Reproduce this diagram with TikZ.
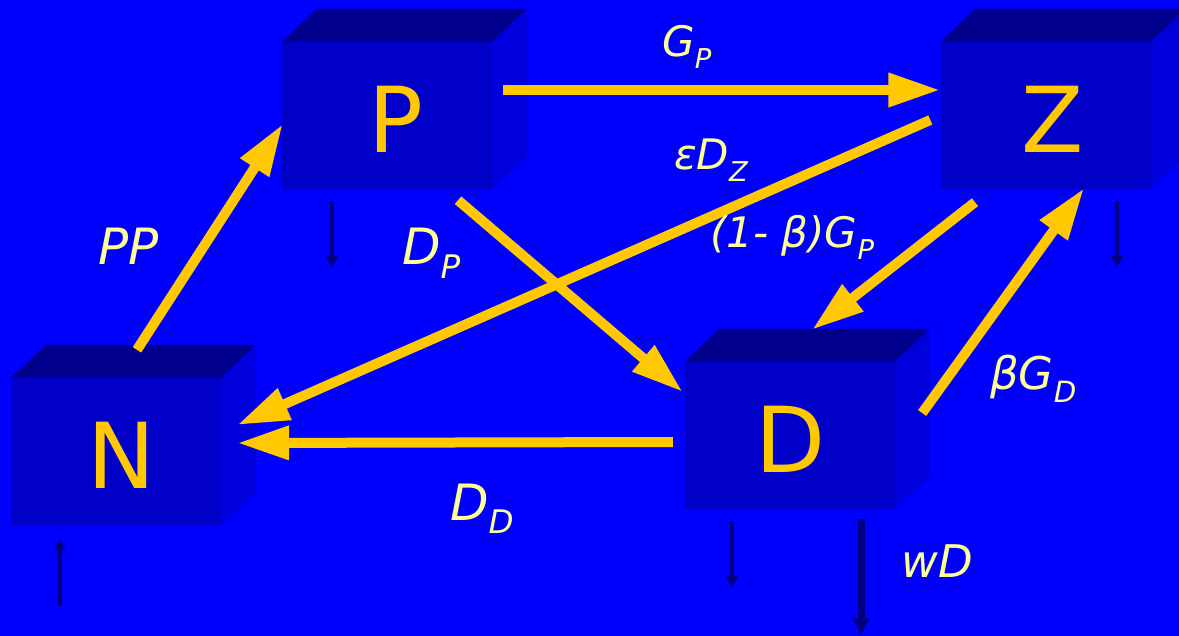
\documentclass[tikz,border=0pt]{standalone}
\usepackage{fontspec}
\setmainfont{DejaVu Sans}
\usetikzlibrary{arrows.meta,calc}
\definecolor{bg}{HTML}{0000FF}
\definecolor{frontc}{HTML}{0000C8}
\definecolor{topc}{HTML}{00008C}
\definecolor{sidec}{HTML}{0000DC}
\definecolor{gold}{HTML}{FFC800}
\definecolor{labc}{HTML}{FFFF99}
\definecolor{navyc}{HTML}{000080}
\newcommand\sbs[1]{\raisebox{-0.27em}{\scalebox{0.65}{#1}}}
% name, x, y, letter, letter dx, letter dy
\newcommand\mkcube[6]{%
  \node[box] (#1) at (#2,#3) {};
  \fill[topc] (#1.north west) -- ++(35,-33) -- ($(#1.north east)+(35,-33)$) -- (#1.north east) -- cycle;
  \fill[sidec] (#1.north east) -- ++(35,-33) -- ($(#1.south east)+(35,-33)$) -- (#1.south east) -- cycle;
  \node[letter] (#1txt) at ($(#1.center)+(#5,#6)$) {#4};
}
\begin{document}
\begin{tikzpicture}[x=1pt,y=-1pt,
  box/.style={draw=none,fill=frontc,minimum width=210pt,minimum height=147pt,inner sep=0pt},
  letter/.style={inner sep=0pt,text=gold,font=\fontsize{91}{91}\selectfont},
  flow/.style={draw=gold,line width=10pt,-{Triangle[length=52pt,width=32pt]}},
  loss/.style={draw=navyc,line width=4pt,-{Triangle[length=11pt,width=11pt]}},
  bigloss/.style={draw=navyc,line width=7pt,-{Triangle[length=17pt,width=16pt]}},
  lbl/.style={text=labc,inner sep=0pt,anchor=base west,font=\itshape\fontsize{#1}{#1}\selectfont},
]
\useasboundingbox (0,0) rectangle (1179,636);
\clip (0,0) rectangle (1179,636);
\fill[bg] (0,0) rectangle (1179,636);

\mkcube{P}{387}{115.5}{P}{9}{4}
\mkcube{N}{116}{451.5}{N}{6}{4}
\mkcube{D}{789.5}{435.5}{D}{1}{4}
\mkcube{Z}{1045.5}{115.5}{Z}{7}{4}

% flows
\draw[flow] ($(P.east)+(11,-25.5)$) -- ($(Z.west)+(0,-25.5)$);
\draw[flow] ($(Z.west)+(-10,4.5)$) -- ($(N.east)+(16,-26.5)$);
\draw[flow] ($(N.north)+(21,-28)$) -- ($(P.west)+(1,8.5)$);
\draw[flow] ($(P.south)+(71,11)$) -- ($(D.west)+(-1.5,-43.5)$);
\draw[flow] ($(Z.south)+(-70.5,13)$) -- ($(D.north)+(22.5,-32)$);
\draw[flow] ($(D.east)+(27.5,-22.5)$) -- ($(Z.south)+(38.5,-1)$);
\draw[flow] ($(D.west)+(-11.5,6.5)$) -- ($(N.east)+(16,-8.5)$);

% losses
\draw[loss] ($(P.south)+(-55,12)$) -- ($(P.south)+(-55,78)$);
\draw[loss] ($(Z.south)+(71.5,12)$) -- ($(Z.south)+(71.5,78)$);
\draw[loss] ($(N.south)+(-56,80)$) -- ($(N.south)+(-56,14)$);
\draw[loss] ($(D.south)+(-57.5,12)$) -- ($(D.south)+(-57.5,78)$);
\draw[bigloss] ($(D.south)+(71.5,10)$) -- ($(D.south)+(71.5,126)$);

% labels
\node[lbl=42] (lGP) at (662,57) {G\sbs{P}};
\node[lbl=42] (lEDZ) at (674,170) {εD\sbs{Z}};
\node[lbl=42] (lbGP) at (710,248) {(1- β)G\sbs{P}};
\node[lbl=50] (lDP) at (402,265) {D\sbs{P}};
\node[lbl=50] (lPP) at (98,265) {PP};
\node[lbl=45] (lbGD) at (990,390) {βG\sbs{D}};
\node[lbl=50] (lDD) at (450,520) {D\sbs{D}};
\node[lbl=45] (lwD) at (901,577) {wD};
\end{tikzpicture}
\end{document}
